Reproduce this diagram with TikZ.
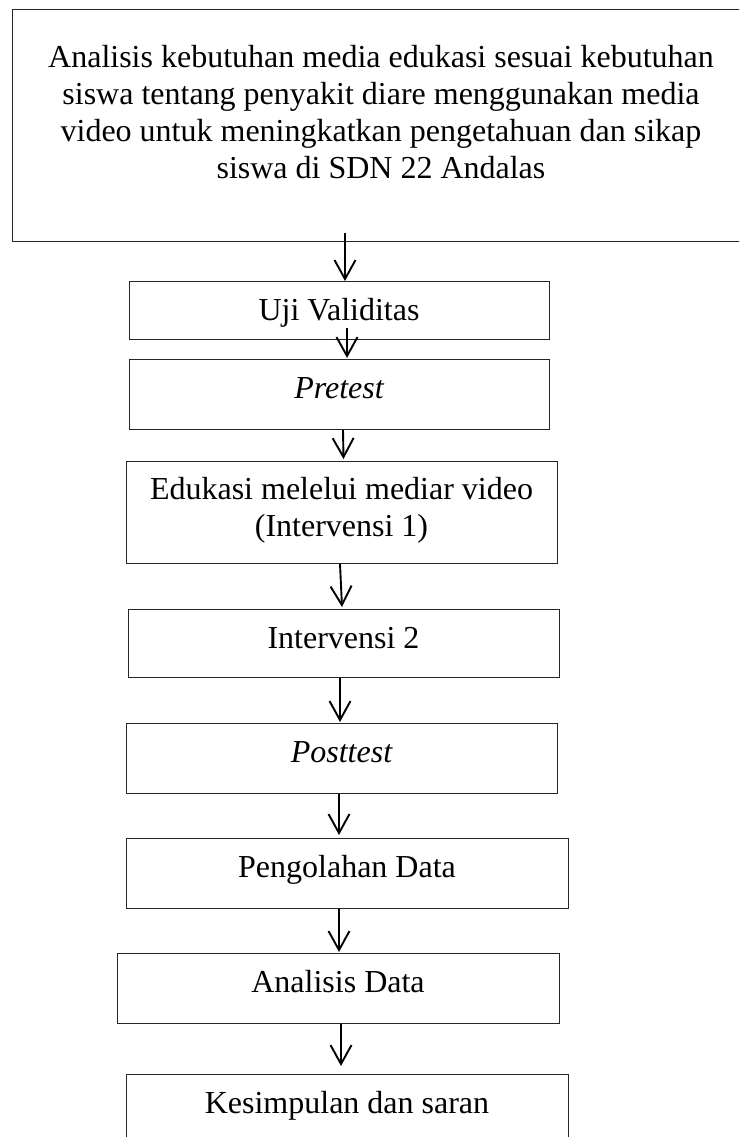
\documentclass[tikz,border=0pt]{standalone}
\usepackage{fontspec}
\setmainfont{Liberation Serif}
\usetikzlibrary{arrows.meta, calc}

\begin{document}
\begin{tikzpicture}[x=1pt, y=-1pt, >={Straight Barb[length=19pt, width=21pt]},
    box/.style={draw=black!85, line width=0.8pt, inner sep=0pt, anchor=north,
        align=center, font=\fontsize{32}{37}\selectfont, text height=39pt},
    flow/.style={->, line width=1.9pt}]

    \useasboundingbox (0,0) rectangle (739,1137);
    \clip (0,0) rectangle (739,1137);

    % --- Boxes, each placed by its top edge ---
    % (with several lines the baseline is the last line)
    \node[box, minimum width=738pt, text height=169pt, text depth=63pt] (kebutuhan) at (381,9)
        {Analisis kebutuhan media edukasi sesuai kebutuhan\\
         siswa tentang penyakit diare menggunakan media\\
         video untuk meningkatkan pengetahuan dan sikap\\
         siswa di SDN 22 Andalas};
    \node[box, minimum width=420pt, text depth=19pt] (uji) at (339,281) {Uji Validitas};
    \node[box, minimum width=420pt, text depth=31pt] (pre) at (339,359) {\itshape Pretest};
    \node[box, minimum width=431pt, text height=75pt, text depth=27pt] (edukasi) at (341.5,461)
        {Edukasi melelui mediar video\\(Intervensi 1)};
    \node[box, minimum width=431pt, text depth=29pt] (interv) at (343.5,609) {Intervensi 2};
    \node[box, minimum width=431pt, text depth=31pt] (post) at (341.5,723) {\itshape Posttest};
    \node[box, minimum width=442pt, text depth=31pt] (olah) at (347,838) {Pengolahan Data};
    \node[box, minimum width=442pt, text depth=31pt] (analisis) at (338,953) {Analisis Data};
    \node[box, minimum width=442pt, text depth=31pt] (simpul) at (347,1074) {Kesimpulan dan saran};

    % --- Arrows (they start a little inside the upper box) ---
    \draw[flow] ($(kebutuhan.south -| uji.north)+(6,-9)$) -- ($(uji.north)+(6,0)$);
    \draw[flow] ($(uji.south)+(8,-12)$) -- ($(pre.north)+(8,-1)$);
    \draw[flow] ($(pre.south)+(4,0)$) -- ($(edukasi.north)+(2,-2)$);
    \draw[flow] ($(edukasi.south)+(-1.5,0)$) -- ($(interv.north)+(-1.5,-2)$);
    \draw[flow] ($(interv.south)+(-3.5,0)$) -- ($(post.north)+(-1.5,-1)$);
    \draw[flow] ($(post.south)+(-2.5,0)$) -- ($(olah.north)+(-8,-3)$);
    \draw[flow] ($(olah.south)+(-8,0)$) -- ($(analisis.north)+(1,-1)$);
    \draw[flow] ($(analisis.south)+(3,0)$) -- ($(simpul.north)+(-6,-8)$);

\end{tikzpicture}
\end{document}
